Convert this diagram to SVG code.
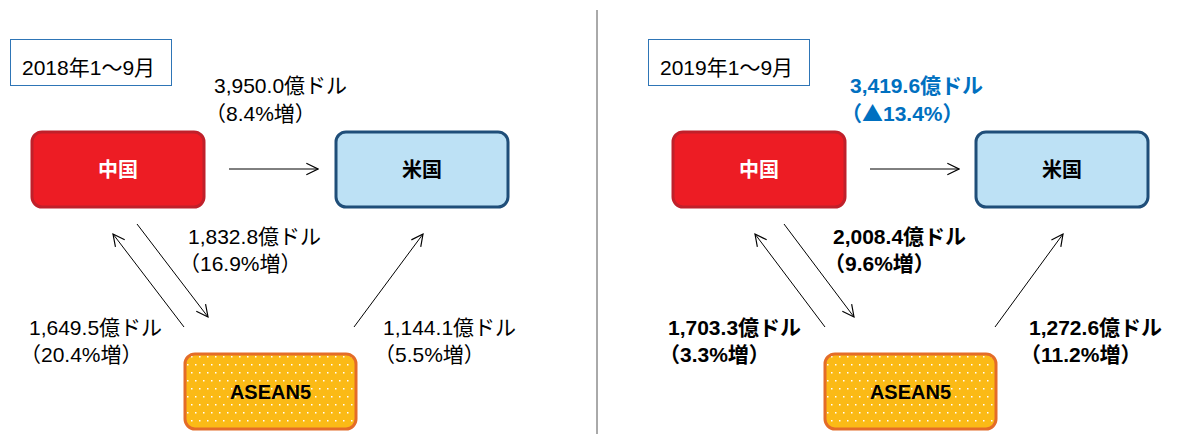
<svg xmlns="http://www.w3.org/2000/svg" width="1183" height="434" viewBox="0 0 1183 434">
<style>
.t{font-family:"Liberation Sans","Noto Sans CJK JP",sans-serif;font-size:21px;fill:#000}
.n{font-size:20px}
.b{font-weight:bold}
.c{text-anchor:middle}
.ttl{font-size:21px}
.blue{fill:#0070C0}
.w{fill:#fff}
.tri{font-family:"Noto Sans CJK JP",sans-serif}
.cn{fill:#ED1C24;stroke:#C0202A;stroke-width:3}
.us{fill:#BDE1F5;stroke:#1F4E79;stroke-width:3}
.as{fill:url(#dots);stroke:#E46C28;stroke-width:3}
.tb{fill:#fff;stroke:#2E75B6;stroke-width:1}
.ln{stroke:#000;stroke-width:1;fill:none;marker-end:url(#ah)}
</style>
<defs>
<marker id="ah" markerUnits="userSpaceOnUse" markerWidth="14" markerHeight="14" refX="10" refY="5" orient="auto" viewBox="-1 -1 12 12">
<path d="M0,0 L10,5 L0,10" fill="none" stroke="#000" stroke-width="1"/>
</marker>
<pattern id="dots" patternUnits="userSpaceOnUse" x="185" y="354" width="8" height="16">
<rect width="8" height="16" fill="#FBBA16"/>
<rect x="6" y="2" width="1.5" height="1.5" fill="#fff"/>
<rect x="2" y="10" width="1.5" height="1.5" fill="#fff"/>
</pattern>
</defs>
<line x1="597" y1="10" x2="597" y2="434" stroke="#555" stroke-width="1"/>
<g id="connectors">
<line class="ln" x1="229" y1="169" x2="318" y2="169"/>
<line class="ln" x1="137" y1="224" x2="208" y2="317"/>
<line class="ln" x1="184" y1="327" x2="113" y2="234"/>
<line class="ln" x1="354" y1="327" x2="423" y2="234"/>
<line class="ln" x1="870" y1="169" x2="959" y2="169"/>
<line class="ln" x1="784" y1="224" x2="854" y2="317"/>
<line class="ln" x1="825" y1="327" x2="755" y2="234"/>
<line class="ln" x1="995" y1="327" x2="1063" y2="234"/>
</g>
<g id="title2018"><rect class="tb" x="10.5" y="39.5" width="161" height="46"/><text class="t ttl" x="22" y="75">2018年1〜9月</text></g>
<g id="china2018"><rect class="cn" x="32" y="132" width="172" height="75" rx="10"/><text class="t n b c w" x="118" y="177">中国</text></g>
<g id="us2018"><rect class="us" x="336" y="132" width="172" height="75" rx="10"/><text class="t n b c" x="422" y="177">米国</text></g>
<g id="asean2018"><rect class="as" x="185" y="354" width="171" height="75" rx="10"/><text class="t n b c" x="270.5" y="399">ASEAN5</text></g>
<g id="labels2018">
<text class="t" x="214" y="93">3,950.0億ドル</text>
<text class="t" x="205" y="121">（8.4%増）</text>
<text class="t" x="188" y="244">1,832.8億ドル</text>
<text class="t" x="179" y="271">（16.9%増）</text>
<text class="t" x="29" y="335">1,649.5億ドル</text>
<text class="t" x="20" y="362">（20.4%増）</text>
<text class="t" x="383" y="335">1,144.1億ドル</text>
<text class="t" x="374" y="362">（5.5%増）</text>
</g>
<g id="title2019"><rect class="tb" x="648.5" y="39.5" width="161" height="46"/><text class="t ttl" x="660" y="75">2019年1〜9月</text></g>
<g id="china2019"><rect class="cn" x="673" y="132" width="172" height="75" rx="10"/><text class="t n b c w" x="759" y="177">中国</text></g>
<g id="us2019"><rect class="us" x="976" y="132" width="172" height="75" rx="10"/><text class="t n b c" x="1062" y="177">米国</text></g>
<g id="asean2019"><rect class="as" x="825" y="354" width="171" height="75" rx="10"/><text class="t n b c" x="910.5" y="399">ASEAN5</text></g>
<g id="labels2019">
<text class="t b blue" x="850" y="93">3,419.6億ドル</text>
<text class="t b blue" x="841" y="121">（<tspan class="tri">▲</tspan>13.4%）</text>
<text class="t b" x="833" y="244">2,008.4億ドル</text>
<text class="t b" x="824" y="271">（9.6%増）</text>
<text class="t b" x="668" y="335">1,703.3億ドル</text>
<text class="t b" x="659" y="362">（3.3%増）</text>
<text class="t b" x="1029" y="335">1,272.6億ドル</text>
<text class="t b" x="1020" y="362">（11.2%増）</text>
</g>
</svg>
